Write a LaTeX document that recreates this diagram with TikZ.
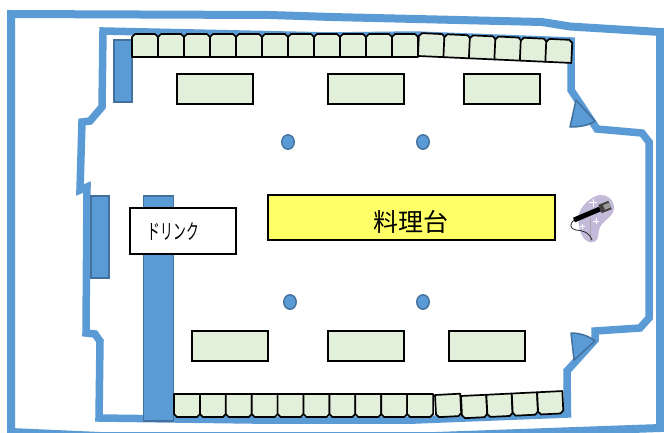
\documentclass[tikz,border=0pt]{standalone}
\usepackage{fontspec}
\newfontfamily\cjk{Noto Sans CJK JP}
\definecolor{wallblue}{HTML}{5B9BD5}
\definecolor{edgeblue}{HTML}{41719C}
\definecolor{seatgreen}{HTML}{E2EFDA}
\definecolor{cookyellow}{HTML}{FFFF66}
\definecolor{blob}{HTML}{C2BAD8}
\tikzset{
  wall/.style={draw=wallblue,line width=7.5pt,miter limit=4,line join=miter},
  seatbox/.style={draw=black,fill=seatgreen,line width=1.7pt,line join=round},
  tablebox/.style={draw=black,fill=seatgreen,line width=1.5pt},
  bar/.style={draw=edgeblue,fill=wallblue,line width=1.3pt},
  pillar/.style={ellipse,draw=edgeblue,fill=wallblue,line width=1.4pt,inner sep=0pt,minimum width=12.5pt,minimum height=14.5pt},
  door/.style={draw=edgeblue,fill=wallblue,line width=1.5pt,line join=round}
}
\usetikzlibrary{shapes.geometric}
\newcommand{\seatTop}[1]{\draw[seatbox,shift={(#1,0)}] (0,23)--(0,3)--(3,0)--(23,0)--(26,3)--(26,23)--cycle;}
\newcommand{\seatBot}[1]{\draw[seatbox,shift={(#1,0)}] (0,0)--(0,20)--(3,23)--(23,23)--(26,20)--(26,0)--cycle;}
\begin{document}
\begin{tikzpicture}[x=1pt,y=-1pt]
\useasboundingbox (0,0) rectangle (664,432);
\clip (0,0) rectangle (664,432);
\fill[white] (0,0) rectangle (664,432);
% outer wall
\draw[wall,line width=8pt] (11,14) -- (270,15) -- (332,17) -- (542,22) -- (570,26.5) -- (660,32) -- (660,428) -- (436,436) -- (100,436) -- (11,432) -- cycle;
% inner wall
\draw[wall] (103,31) -- (102,107) -- (90,121) -- (82,122) -- (80,190) -- (87,187) -- (86,333) -- (95,334) -- (100,341) -- (99,418) -- (253,420) -- (415,420) -- (567.5,414) -- (567,371) -- (595,340) -- (595,331) -- (640,328) -- (649,318) -- (649,142) -- (642,133) -- (597,129) -- (571,90) -- (571,41) -- (415,35) -- (330,36) -- cycle;
% blue bars
\draw[bar] (114,40) rectangle (132,102);
\draw[bar] (91,196) rectangle (109,278);
\draw[bar] (143.5,196) rectangle (173.5,421);
% doors
\draw[door] (576,100) -- (595,121) .. controls (588,126) and (578,127) .. (570,127) -- cycle;
\draw[door] (571,333) .. controls (580,333) and (589,336) .. (595,341) -- (574,360) -- cycle;
% seats, top
\begin{scope}[shift={(132,34)}]
\foreach \i in {0,...,10} {\seatTop{\i*26}}
\end{scope}
\begin{scope}[shift={(419,33)},rotate=-2.6]
\foreach \i in {0,...,5} {\seatTop{\i*25.5}}
\end{scope}
% seats, bottom
\begin{scope}[shift={(174,394)}]
\foreach \i in {0,...,9} {\seatBot{\i*25.9}}
\end{scope}
\begin{scope}[shift={(435,395)},rotate=3,scale=.97]
\seatBot{0}
\end{scope}
\begin{scope}[shift={(461,396)},rotate=2.8,scale=.97]
\foreach \i in {0,...,3} {\seatBot{\i*26.2}}
\end{scope}
% tables
\draw[tablebox] (177,74) rectangle (253,104);
\draw[tablebox] (328,74) rectangle (404,104);
\draw[tablebox] (464,74) rectangle (540,104);
\draw[tablebox] (192,331) rectangle (268,361);
\draw[tablebox] (328,331) rectangle (404,361);
\draw[tablebox] (449,331) rectangle (525,361);
% pillars
\node[pillar] (p1) at (288,142) {};
\node[pillar] (p2) at (423,142) {};
\node[pillar] (p3) at (290,302) {};
\node[pillar] (p4) at (423,302) {};
% cooking table and drink box
\node[draw=black,fill=cookyellow,line width=1.5pt,minimum width=287pt,minimum height=45pt,inner sep=0pt] (cook) at (411.5,217.5) {};
\node[font=\cjk\fontsize{25}{25}\selectfont] (cooktext) at (411,221.5) {料理台};
\node[draw=black,fill=white,line width=1.5pt,minimum width=106pt,minimum height=46pt,inner sep=0pt] (drink) at (183,231) {};
\node[font=\cjk\fontsize{20}{20}\selectfont,xscale=.64,yscale=1.05] (drinktext) at (173.5,231) {ドリンク};
% microphone
\fill[blob] (600,195) .. controls (607,194) and (614,200) .. (614,208) .. controls (614,216) and (604,220) .. (600,227) .. controls (597,233) and (600,240) .. (594,242) .. controls (587,244) and (582,238) .. (580,230) .. controls (578,222) and (577,215) .. (581,209) .. controls (585,203) and (592,196) .. (600,195) -- cycle;
\draw[gray!70,line width=.8pt] (590,218) -- (590,241);
\draw[black!85,line width=.8pt] (574,220) .. controls (569,224) and (570,229) .. (576,230) .. controls (584,231) and (589,232) .. (592,240);
\draw[black,line width=5pt] (574,220) -- (600,209);
\draw[black!75,line width=9pt] (600,209) -- (610,205);
\draw[gray!80,line width=5pt] (604,207.5) -- (610,205);
\draw[white,line width=.8pt] (589,202.5) -- (597,202.5) (593,198.5) -- (593,206.5);
\draw[white,line width=.8pt] (593,221) -- (599,221) (596,218) -- (596,224);
\draw[white,line width=.8pt] (579.5,226) -- (584.5,226) (582,223.5) -- (582,228.5);
\end{tikzpicture}
\end{document}
